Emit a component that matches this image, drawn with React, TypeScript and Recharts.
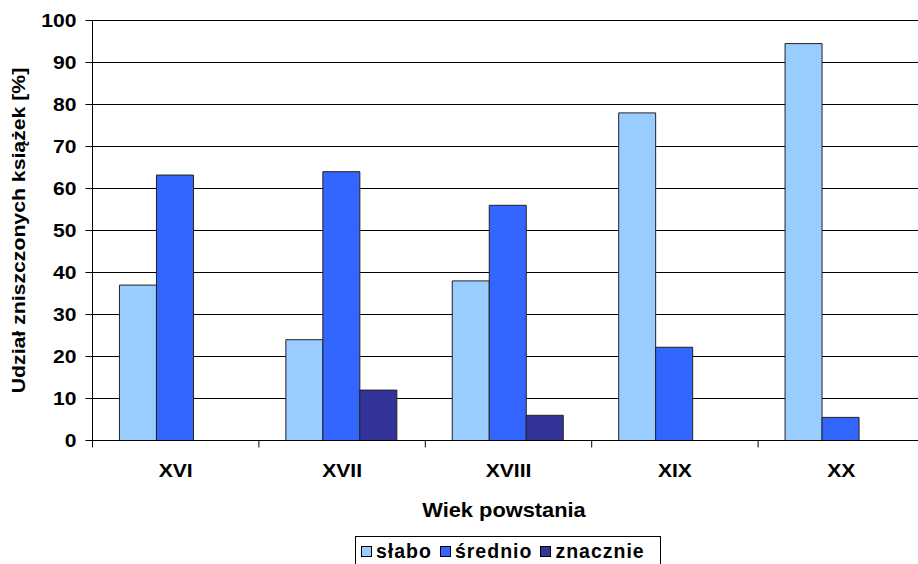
import React from 'react'
import { BarChart, Bar, XAxis, YAxis, CartesianGrid } from 'recharts'

const CENTURIES = ['XVI', 'XVII', 'XVIII', 'XIX', 'XX']
const SLABO = [37, 24, 38, 78, 94.5]
const SREDNIO = [63.2, 64, 56, 22.2, 5.5]
const ZNACZNIE = [0, 12, 6, 0, 0]
const Y_TICKS = [0, 10, 20, 30, 40, 50, 60, 70, 80, 90, 100]

const SERIES = [
  { key: 'slabo', name: 'słabo', color: '#99CCFF', values: SLABO },
  { key: 'srednio', name: 'średnio', color: '#3366FF', values: SREDNIO },
  { key: 'znacznie', name: 'znacznie', color: '#333399', values: ZNACZNIE },
]

const data = CENTURIES.map((century, i) => {
  const row: Record<string, string | number> = { century }
  SERIES.forEach(s => { row[s.key] = s.values[i] })
  return row
})

const FONT = '"Liberation Sans", Arial, sans-serif'
const STRETCH = 1.14

function YTick({ x, y, payload }: any) {
  return (
    <g transform={`translate(${x},${y}) scale(${STRETCH},1)`}>
      <text x={0} y={0} dy="0.36em" textAnchor="end" fontSize={18.5} fontWeight="bold" fontFamily={FONT} fill="#000">
        {payload.value}
      </text>
    </g>
  )
}

function XTick({ x, y, payload, index, width }: any) {
  const half = payload.offset || width / CENTURIES.length / 2
  const axisY = y - 23
  return (
    <g>
      <line x1={x - half} y1={axisY} x2={x - half} y2={axisY + 7} stroke="#000" />
      {index === CENTURIES.length - 1 && <line x1={x + half} y1={axisY} x2={x + half} y2={axisY + 7} stroke="#000" />}
      <g transform={`translate(${x},${y}) scale(${STRETCH},1)`}>
        <text x={0} y={0} dy="0.71em" textAnchor="middle" fontSize={18.5} fontWeight="bold" fontFamily={FONT} fill="#000">
          {payload.value}
        </text>
      </g>
    </g>
  )
}

function XTitle({ viewBox }: any) {
  const cx = viewBox.x + viewBox.width / 2 - 4.5
  return (
    <g transform={`translate(${cx},516.5) scale(1.12,1)`}>
      <text x={0} y={0} textAnchor="middle" fontSize={19.5} fontWeight="bold" fontFamily={FONT} fill="#000">
        Wiek powstania
      </text>
    </g>
  )
}

function YTitle({ viewBox }: any) {
  const cy = viewBox.y + viewBox.height / 2
  return (
    <g transform={`translate(24.5,${cy}) rotate(-90) scale(1.18,1)`}>
      <text x={0} y={0} textAnchor="middle" fontSize={18} fontWeight="bold" fontFamily={FONT} fill="#000">
        Udział zniszczonych książek [%]
      </text>
    </g>
  )
}

function LegendBox() {
  return (
    <div
      style={{
        position: 'absolute', left: 355, top: 536, width: 306, height: 40,
        border: '1px solid #000', boxSizing: 'border-box', background: '#fff',
        display: 'flex', alignItems: 'center', paddingLeft: 5, paddingBottom: 10,
        fontFamily: FONT, fontWeight: 'bold', fontSize: 19.5, lineHeight: '20px', letterSpacing: 1,
      }}
    >
      {SERIES.map(s => (
        <div key={s.key} style={{ display: 'flex', alignItems: 'center', marginRight: 8 }}>
          <span style={{ width: 9, height: 9, border: '1px solid #000', background: s.color, marginRight: 4 }} />
          <span>{s.name}</span>
        </div>
      ))}
    </div>
  )
}

export default function App() {
  return (
    <div style={{ position: 'absolute', left: 0, top: 0, width: 918, height: 564, overflow: 'hidden', background: '#fff' }}>
      <BarChart
        width={930}
        height={564}
        data={data}
        margin={{ top: 20.5, right: 5.5, left: 0, bottom: 0 }}
        barCategoryGap="16.2%"
        barGap={0}
      >
        <CartesianGrid vertical={false} stroke="#000" />
        <XAxis
          dataKey="century"
          height={123.5}
          axisLine={{ stroke: '#000' }}
          tickLine={false}
          tickSize={0}
          tickMargin={23}
          tick={<XTick />}
          interval={0}
          label={<XTitle />}
        />
        <YAxis
          width={92.5}
          domain={[0, 100]}
          ticks={Y_TICKS}
          interval={0}
          axisLine={{ stroke: '#000' }}
          tickLine={{ stroke: '#000' }}
          tickSize={7}
          tickMargin={9}
          tick={<YTick />}
          label={<YTitle />}
        />
        {SERIES.map(s => (
          <Bar key={s.key} dataKey={s.key} name={s.name} fill={s.color} stroke="#222" strokeWidth={1} isAnimationActive={false} />
        ))}
      </BarChart>
      <LegendBox />
    </div>
  )
}
